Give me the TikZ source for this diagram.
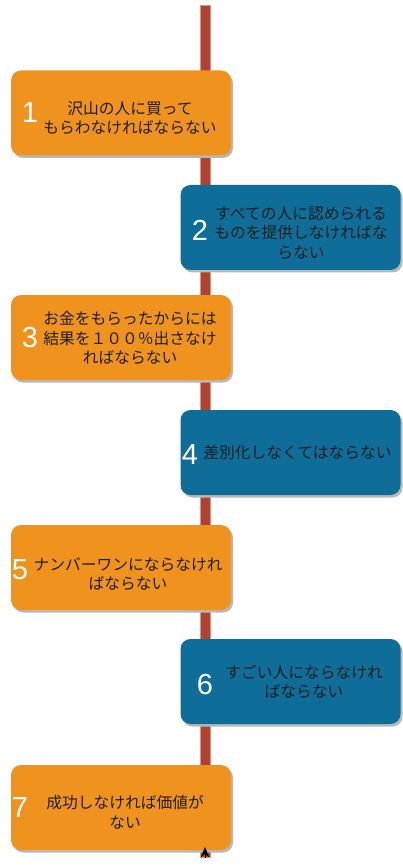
\documentclass[tikz,border=0pt]{standalone}
\usepackage{fontspec}
\newfontfamily\jpfont{Noto Sans CJK JP}
\newfontfamily\numfont{Liberation Sans}
\usetikzlibrary{shadows,arrows.meta}
\definecolor{orng}{HTML}{F0931E}
\definecolor{blu}{HTML}{0E6E99}
\definecolor{spine}{HTML}{B04232}
\definecolor{spineedge}{HTML}{D9958C}
\definecolor{txtcol}{HTML}{1E1E1E}
\begin{document}
\begin{tikzpicture}[x=1pt,y=-1pt,
 card/.style={rounded corners=10pt, minimum width=220pt, minimum height=85pt, inner sep=0pt, draw=none,
   drop shadow={shadow xshift=2pt,shadow yshift=-2.5pt,fill=black!28,opacity=1}},
 left card/.style={card, fill=orng},
 right card/.style={card, fill=blu},
 numlbl/.style={text=white, font=\numfont\fontsize{29}{29}\selectfont, inner sep=0pt},
 txt/.style={text=txtcol, font=\jpfont\fontsize{15.75}{19.5}\selectfont, align=center, inner sep=0pt}]
\useasboundingbox (0,0) rectangle (402,866);
\fill[white] (0,0) rectangle (402,866);
\node[fill=spine, draw=spineedge, line width=0.8pt, minimum width=10pt, minimum height=852pt, inner sep=0pt, anchor=north] (spine) at (205,5) {};
% cards
\node[left card] (b1) at (121,113) {};
\node[numlbl] (n1) at (30,113) {1};
\node[txt] (t1) at (130,118) {沢山の人に買って\\もらわなければならない};
\node[right card] (b2) at (290.5,227.5) {};
\node[numlbl] (n2) at (200,230) {2};
\node[txt] (t2) at (301,233) {すべての人に認められる\\ものを提供しなければな\\らない};
\node[left card] (b3) at (121,337.5) {};
\node[numlbl] (n3) at (30,338) {3};
\node[txt] (t3) at (130,338) {お金をもらったからには\\結果を１００％出さなけ\\ればならない};
\node[right card] (b4) at (290.5,452.5) {};
\node[numlbl] (n4) at (190,455) {4};
\node[txt] (t4) at (297.5,453) {差別化しなくてはならない};
\node[left card] (b5) at (121,567.5) {};
\node[numlbl] (n5) at (20,570) {5};
\node[txt] (t5) at (128,574) {ナンバーワンにならなけれ\\ばならない};
\node[right card] (b6) at (290.5,681.5) {};
\node[numlbl] (n6) at (205,685) {6};
\node[txt] (t6) at (304,682) {すごい人にならなけれ\\ばならない};
\node[left card] (b7) at (121,807.5) {};
\node[numlbl] (n7) at (20,808) {7};
\node[txt] (t7) at (125,812) {成功しなければ価値が\\ない};
% arrow tip at the bottom of the spine
\coordinate (ab) at (205,857.5);
\coordinate (at) at (205,847);
\draw[black, line width=0.6pt, -{Stealth[length=10pt,width=8pt]}] (ab) -- (at);
\end{tikzpicture}
\end{document}
